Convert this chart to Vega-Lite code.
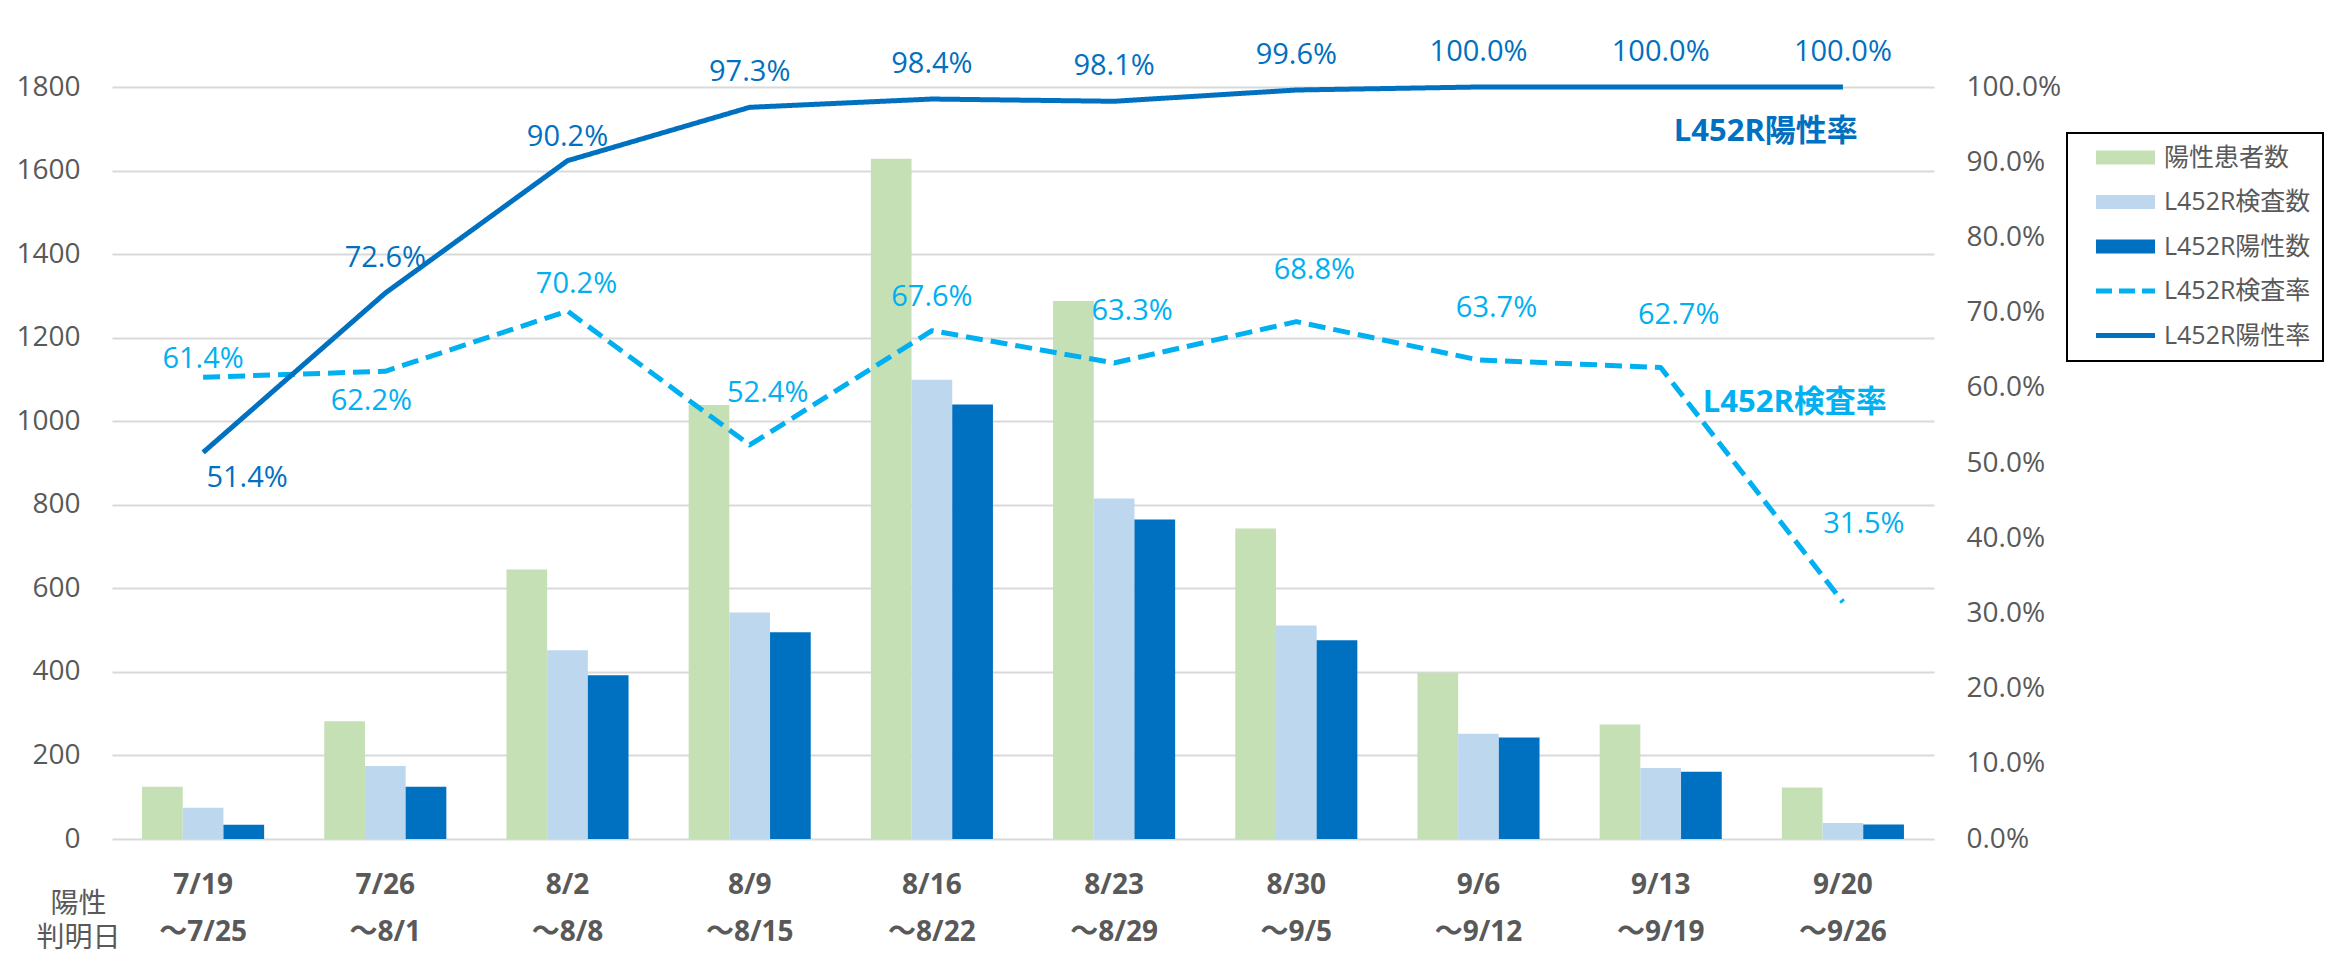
{
  "$schema": "https://vega.github.io/schema/vega-lite/v6.json",
  "width": 1822,
  "height": 752,
  "autosize": {"type": "none"},
  "padding": {"left": 112, "top": 87, "right": 400, "bottom": 127},
  "background": "white",
  "config": {
    "font": "Open Sans, Noto Sans CJK JP",
    "view": {"stroke": null}
  },
  "datasets": {
    "weekly": [
      {"week": "7/19 ～7/25", "陽性患者数": 125, "L452R検査数": 75, "L452R陽性数": 34, "L452R検査率": 0.614, "L452R陽性率": 0.514},
      {"week": "7/26 ～8/1", "陽性患者数": 282, "L452R検査数": 175, "L452R陽性数": 125, "L452R検査率": 0.622, "L452R陽性率": 0.726},
      {"week": "8/2 ～8/8", "陽性患者数": 645, "L452R検査数": 452, "L452R陽性数": 392, "L452R検査率": 0.702, "L452R陽性率": 0.902},
      {"week": "8/9 ～8/15", "陽性患者数": 1039, "L452R検査数": 542, "L452R陽性数": 495, "L452R検査率": 0.524, "L452R陽性率": 0.973},
      {"week": "8/16 ～8/22", "陽性患者数": 1628, "L452R検査数": 1099, "L452R陽性数": 1040, "L452R検査率": 0.676, "L452R陽性率": 0.984},
      {"week": "8/23 ～8/29", "陽性患者数": 1288, "L452R検査数": 815, "L452R陽性数": 765, "L452R検査率": 0.633, "L452R陽性率": 0.981},
      {"week": "8/30 ～9/5", "陽性患者数": 743, "L452R検査数": 511, "L452R陽性数": 476, "L452R検査率": 0.688, "L452R陽性率": 0.996},
      {"week": "9/6 ～9/12", "陽性患者数": 398, "L452R検査数": 252, "L452R陽性数": 243, "L452R検査率": 0.637, "L452R陽性率": 1.0},
      {"week": "9/13 ～9/19", "陽性患者数": 274, "L452R検査数": 170, "L452R陽性数": 161, "L452R検査率": 0.627, "L452R陽性率": 1.0},
      {"week": "9/20 ～9/26", "陽性患者数": 123, "L452R検査数": 38, "L452R陽性数": 35, "L452R検査率": 0.315, "L452R陽性率": 1.0}
    ],
    "notes": [
      {"week": "9/13 ～9/19", "rate": 0.94, "series": "L452R陽性率"},
      {"week": "9/13 ～9/19", "rate": 0.58, "series": "L452R検査率"}
    ]
  },
  "data": {"name": "weekly"},
  "encoding": {
    "x": {
      "field": "week", "type": "nominal", "sort": null,
      "scale": {"paddingInner": 0.33, "paddingOuter": 0.165},
      "axis": {
        "title": ["陽性", "判明日"], "titleX": -34, "titleY": 51, "titleAlign": "center", "titleBaseline": "top",
        "titleFontSize": 28, "titleFontWeight": "normal", "titleColor": "#595959", "titleLineHeight": 34,
        "labelExpr": "split(datum.value, ' ')", "labelFontSize": 28, "labelFontWeight": "bold", "labelColor": "#595959",
        "labelLineHeight": 47, "labelPadding": 32, "labelBaseline": "top", "labelAngle": 0,
        "ticks": false, "domain": false
      }
    }
  },
  "layer": [
    {
      "transform": [{"fold": ["陽性患者数", "L452R検査数", "L452R陽性数"], "as": ["series", "count"]}],
      "mark": {"type": "bar"},
      "encoding": {
        "xOffset": {"field": "series", "type": "nominal", "sort": ["陽性患者数", "L452R検査数", "L452R陽性数"], "scale": {"paddingInner": 0, "paddingOuter": 0}},
        "y": {
          "field": "count", "type": "quantitative", "scale": {"domain": [0, 1800]},
          "axis": {"orient": "left", "title": null, "format": "d", "values": [0, 200, 400, 600, 800, 1000, 1200, 1400, 1600, 1800],
            "domain": false, "ticks": false, "grid": true, "gridColor": "#D9D9D9", "gridWidth": 2,
            "labelFontSize": 28, "labelColor": "#595959", "labelPadding": 32}
        },
        "color": {
          "field": "series", "type": "nominal",
          "scale": {"domain": ["陽性患者数", "L452R検査数", "L452R陽性数", "L452R検査率", "L452R陽性率"], "range": ["#C5E0B4", "#BDD7EE", "#0070C0", "#00B0F0", "#0070C0"]},
          "legend": {
            "title": null, "orient": "none", "legendX": 1955, "legendY": 46,
            "strokeColor": "black", "fillColor": "white", "padding": 12, "rowPadding": 18.5,
            "symbolSize": 2304, "labelFontSize": 25, "labelColor": "#595959", "labelOffset": 26, "symbolOffset": 34,
            "encode": {
              "legend": {"update": {"strokeWidth": {"value": 2}}},
              "symbols": {"update": {
                "shape": {"signal": "(datum.value == 'L452R検査率' || datum.value == 'L452R陽性率') ? 'M-1.23,0L1.23,0' : 'M-1.23,-0.29L1.23,-0.29L1.23,0.29L-1.23,0.29Z'"},
                "fill": {"signal": "datum.value == '陽性患者数' ? '#C5E0B4' : datum.value == 'L452R検査数' ? '#BDD7EE' : datum.value == 'L452R陽性数' ? '#0070C0' : 'transparent'"},
                "stroke": {"signal": "datum.value == 'L452R検査率' ? '#00B0F0' : datum.value == 'L452R陽性率' ? '#0070C0' : 'transparent'"},
                "strokeWidth": {"signal": "(datum.value == 'L452R検査率' || datum.value == 'L452R陽性率') ? 5 : 0"},
                "strokeDash": {"signal": "datum.value == 'L452R検査率' ? [16, 7] : [1, 0]"},
                "opacity": {"value": 1}
              }}
            }
          }
        }
      }
    },
    {
      "encoding": {
        "y": {
          "field": "rate", "type": "quantitative", "scale": {"domain": [0, 1]},
          "axis": {"orient": "right", "title": null, "format": ".1%", "values": [0, 0.1, 0.2, 0.3, 0.4, 0.5, 0.6, 0.7, 0.8, 0.9, 1],
            "domain": false, "ticks": false, "grid": false, "labelFontSize": 28, "labelColor": "#595959", "labelPadding": 32}
        },
        "color": {
          "field": "series", "type": "nominal",
          "scale": {"domain": ["陽性患者数", "L452R検査数", "L452R陽性数", "L452R検査率", "L452R陽性率"], "range": ["#C5E0B4", "#BDD7EE", "#0070C0", "#00B0F0", "#0070C0"]}
        }
      },
      "layer": [
        {
          "transform": [{"fold": ["L452R検査率", "L452R陽性率"], "as": ["series", "rate"]}],
          "mark": {"type": "line", "strokeWidth": 5, "strokeJoin": "round"},
          "encoding": {
            "strokeDash": {"field": "series", "type": "nominal", "scale": {"domain": ["L452R検査率", "L452R陽性率"], "range": [[17, 8], [1, 0]]}, "legend": null}
          }
        },
        {
          "transform": [{"fold": ["L452R検査率", "L452R陽性率"], "as": ["series", "rate"]}],
          "mark": {
            "type": "text", "fontSize": 29, "align": "center", "baseline": "middle",
            "dx": {"expr": "datum.series == 'L452R陽性率' ? (datum.week == '7/19 ～7/25' ? 44 : 0) : (datum.week == '7/19 ～7/25' ? 0 : datum.week == '7/26 ～8/1' ? -14 : datum.week == '8/2 ～8/8' ? 9 : datum.week == '8/16 ～8/22' ? 0 : datum.week == '9/20 ～9/26' ? 21 : 18)"},
            "dy": {"expr": "datum.series == 'L452R陽性率' ? (datum.week == '7/19 ～7/25' ? 26 : datum.week == '8/2 ～8/8' ? -24 : -35) : (datum.week == '7/19 ～7/25' ? -18 : datum.week == '7/26 ～8/1' ? 30 : datum.week == '8/2 ～8/8' ? -27 : datum.week == '8/16 ～8/22' ? -34 : datum.week == '9/20 ～9/26' ? -78 : -52)"}
          },
          "encoding": {
            "text": {"field": "rate", "type": "quantitative", "format": ".1%"}
          }
        },
        {
          "data": {"name": "notes"},
          "mark": {
            "type": "text", "fontSize": 31, "fontWeight": "bold", "align": "left", "baseline": "middle",
            "dx": {"expr": "datum.series == 'L452R検査率' ? 42 : 13"}
          },
          "encoding": {
            "text": {"field": "series", "type": "nominal"}
          }
        }
      ]
    }
  ],
  "resolve": {"scale": {"y": "independent"}}
}
